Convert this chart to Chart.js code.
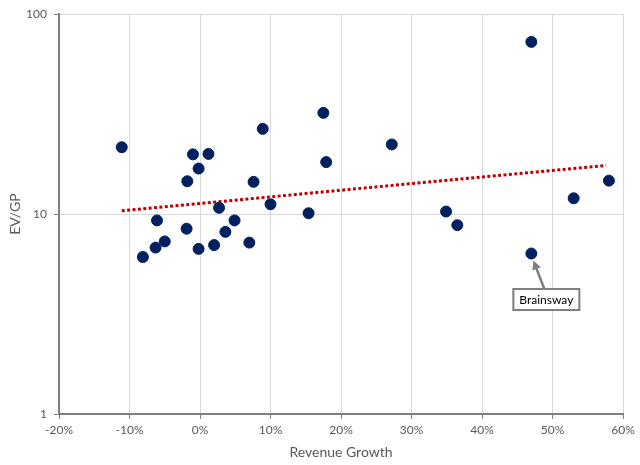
<!DOCTYPE html>
<html>
<head>
<meta charset="utf-8">
<script src="https://cdn.jsdelivr.net/npm/chart.js@4.4.1/dist/chart.umd.min.js"></script>
<style>
  html, body { margin: 0; padding: 0; background: #fff; }
  #wrap { width: 640px; height: 465px; }
</style>
</head>
<body>
<div id="wrap"><canvas id="chart" width="640" height="465"></canvas></div>
<script>
// revenue growth (%) and EV/GP multiple for each company
const revenueGrowth = [-11.1, -1.0, 1.2, -0.2, -1.8, 2.7, -6.1, 4.9, -1.9, 3.6, -5.0, -6.3, -0.2, 2.0, -8.1, 7.0, 8.9, 7.6, 10.0, 15.4, 17.5, 17.9, 27.2, 34.9, 36.5, 47.0, 53.0, 58.0, 47.0]
const evGp = [21.6, 19.9, 20.0, 16.9, 14.6, 10.75, 9.3, 9.3, 8.45, 8.15, 7.3, 6.8, 6.7, 7.0, 6.1, 7.2, 26.7, 14.5, 11.2, 10.1, 32.1, 18.2, 22.3, 10.3, 8.8, 72.7, 12.0, 14.7, 6.35]

// exponential trend line, read at its two ends
const trendX = [-11.1, 57.6]
const trendY = [10.4, 17.5]

const yTicks = [1, 10, 100]
const calloutLabel = 'Brainsway'
const calloutIndex = 28

const axisGrey = '#7f7f7f'
const gridGrey = '#d9d9d9'
const textGrey = '#595959'

const calloutPlugin = {
  id: 'callout',
  afterDatasetsDraw(chart) {
    const pt = chart.getDatasetMeta(0).data[calloutIndex]
    if (!pt) return
    const ctx = chart.ctx
    const bx = pt.x + 15, by = pt.y + 46
    const bw = 66, bh = 21

    // arrow from box up to the point
    const sx = pt.x + 13, sy = by - bh / 2
    const ex = pt.x + 2, ey = pt.y + 7
    const ang = Math.atan2(ey - sy, ex - sx)
    ctx.save()
    ctx.strokeStyle = axisGrey
    ctx.fillStyle = axisGrey
    ctx.lineWidth = 2.5
    ctx.beginPath()
    ctx.moveTo(sx, sy)
    ctx.lineTo(ex - 6 * Math.cos(ang), ey - 6 * Math.sin(ang))
    ctx.stroke()
    ctx.beginPath()
    ctx.moveTo(ex, ey)
    ctx.lineTo(ex - 9 * Math.cos(ang) + 4.5 * Math.sin(ang), ey - 9 * Math.sin(ang) - 4.5 * Math.cos(ang))
    ctx.lineTo(ex - 9 * Math.cos(ang) - 4.5 * Math.sin(ang), ey - 9 * Math.sin(ang) + 4.5 * Math.cos(ang))
    ctx.closePath()
    ctx.fill()

    // label box
    ctx.fillStyle = '#fff'
    ctx.fillRect(bx - bw / 2, by - bh / 2, bw, bh)
    ctx.lineWidth = 2
    ctx.strokeRect(bx - bw / 2, by - bh / 2, bw, bh)
    ctx.fillStyle = '#000'
    ctx.font = '12px Lato'
    ctx.textAlign = 'center'
    ctx.textBaseline = 'middle'
    ctx.fillText(calloutLabel, bx, by + 1)
    ctx.restore()
  }
}

new Chart(document.getElementById('chart'), {
  type: 'scatter',
  data: {
    datasets: [
      {
        label: 'Companies',
        data: revenueGrowth.map((x, i) => ({ x: x, y: evGp[i] })),
        backgroundColor: '#002060',
        borderColor: '#002060',
        pointRadius: 5.5,
        pointHoverRadius: 5.5,
        order: 1
      },
      {
        type: 'line',
        label: 'Trend',
        data: trendX.map((x, i) => ({ x: x, y: trendY[i] })),
        borderColor: '#c00000',
        borderWidth: 3,
        borderDash: [3, 2.4],
        pointRadius: 0,
        fill: false,
        order: 2
      }
    ]
  },
  options: {
    responsive: false,
    animation: false,
    layout: { padding: { top: 13, right: 17, left: 0, bottom: 0 } },
    plugins: {
      legend: { display: false },
      tooltip: { enabled: false }
    },
    scales: {
      x: {
        type: 'linear',
        min: -20,
        max: 60,
        afterFit: scale => { scale.height = 51 },
        ticks: {
          stepSize: 10,
          color: textGrey,
          font: { family: 'Lato', size: 12 },
          padding: 4,
          callback: v => v + '%'
        },
        grid: { color: gridGrey, tickColor: axisGrey, tickLength: 5 },
        border: { color: axisGrey, width: 2 },
        title: {
          display: true,
          text: 'Revenue Growth',
          color: textGrey,
          font: { family: 'Lato', size: 14 }
        }
      },
      y: {
        type: 'logarithmic',
        min: 1,
        max: 100,
        afterFit: scale => { scale.width = 59 },
        afterBuildTicks: scale => { scale.ticks = yTicks.map(v => ({ value: v })) },
        ticks: {
          color: textGrey,
          font: { family: 'Lato', size: 12 },
          padding: 7,
          callback: v => String(v)
        },
        grid: { color: gridGrey, tickColor: axisGrey, tickLength: 5 },
        border: { color: axisGrey, width: 2 },
        title: {
          display: true,
          text: 'EV/GP',
          color: textGrey,
          font: { family: 'Lato', size: 14 },
          padding: { top: 7, bottom: 0 }
        }
      }
    }
  },
  plugins: [calloutPlugin]
})
</script>
</body>
</html>
